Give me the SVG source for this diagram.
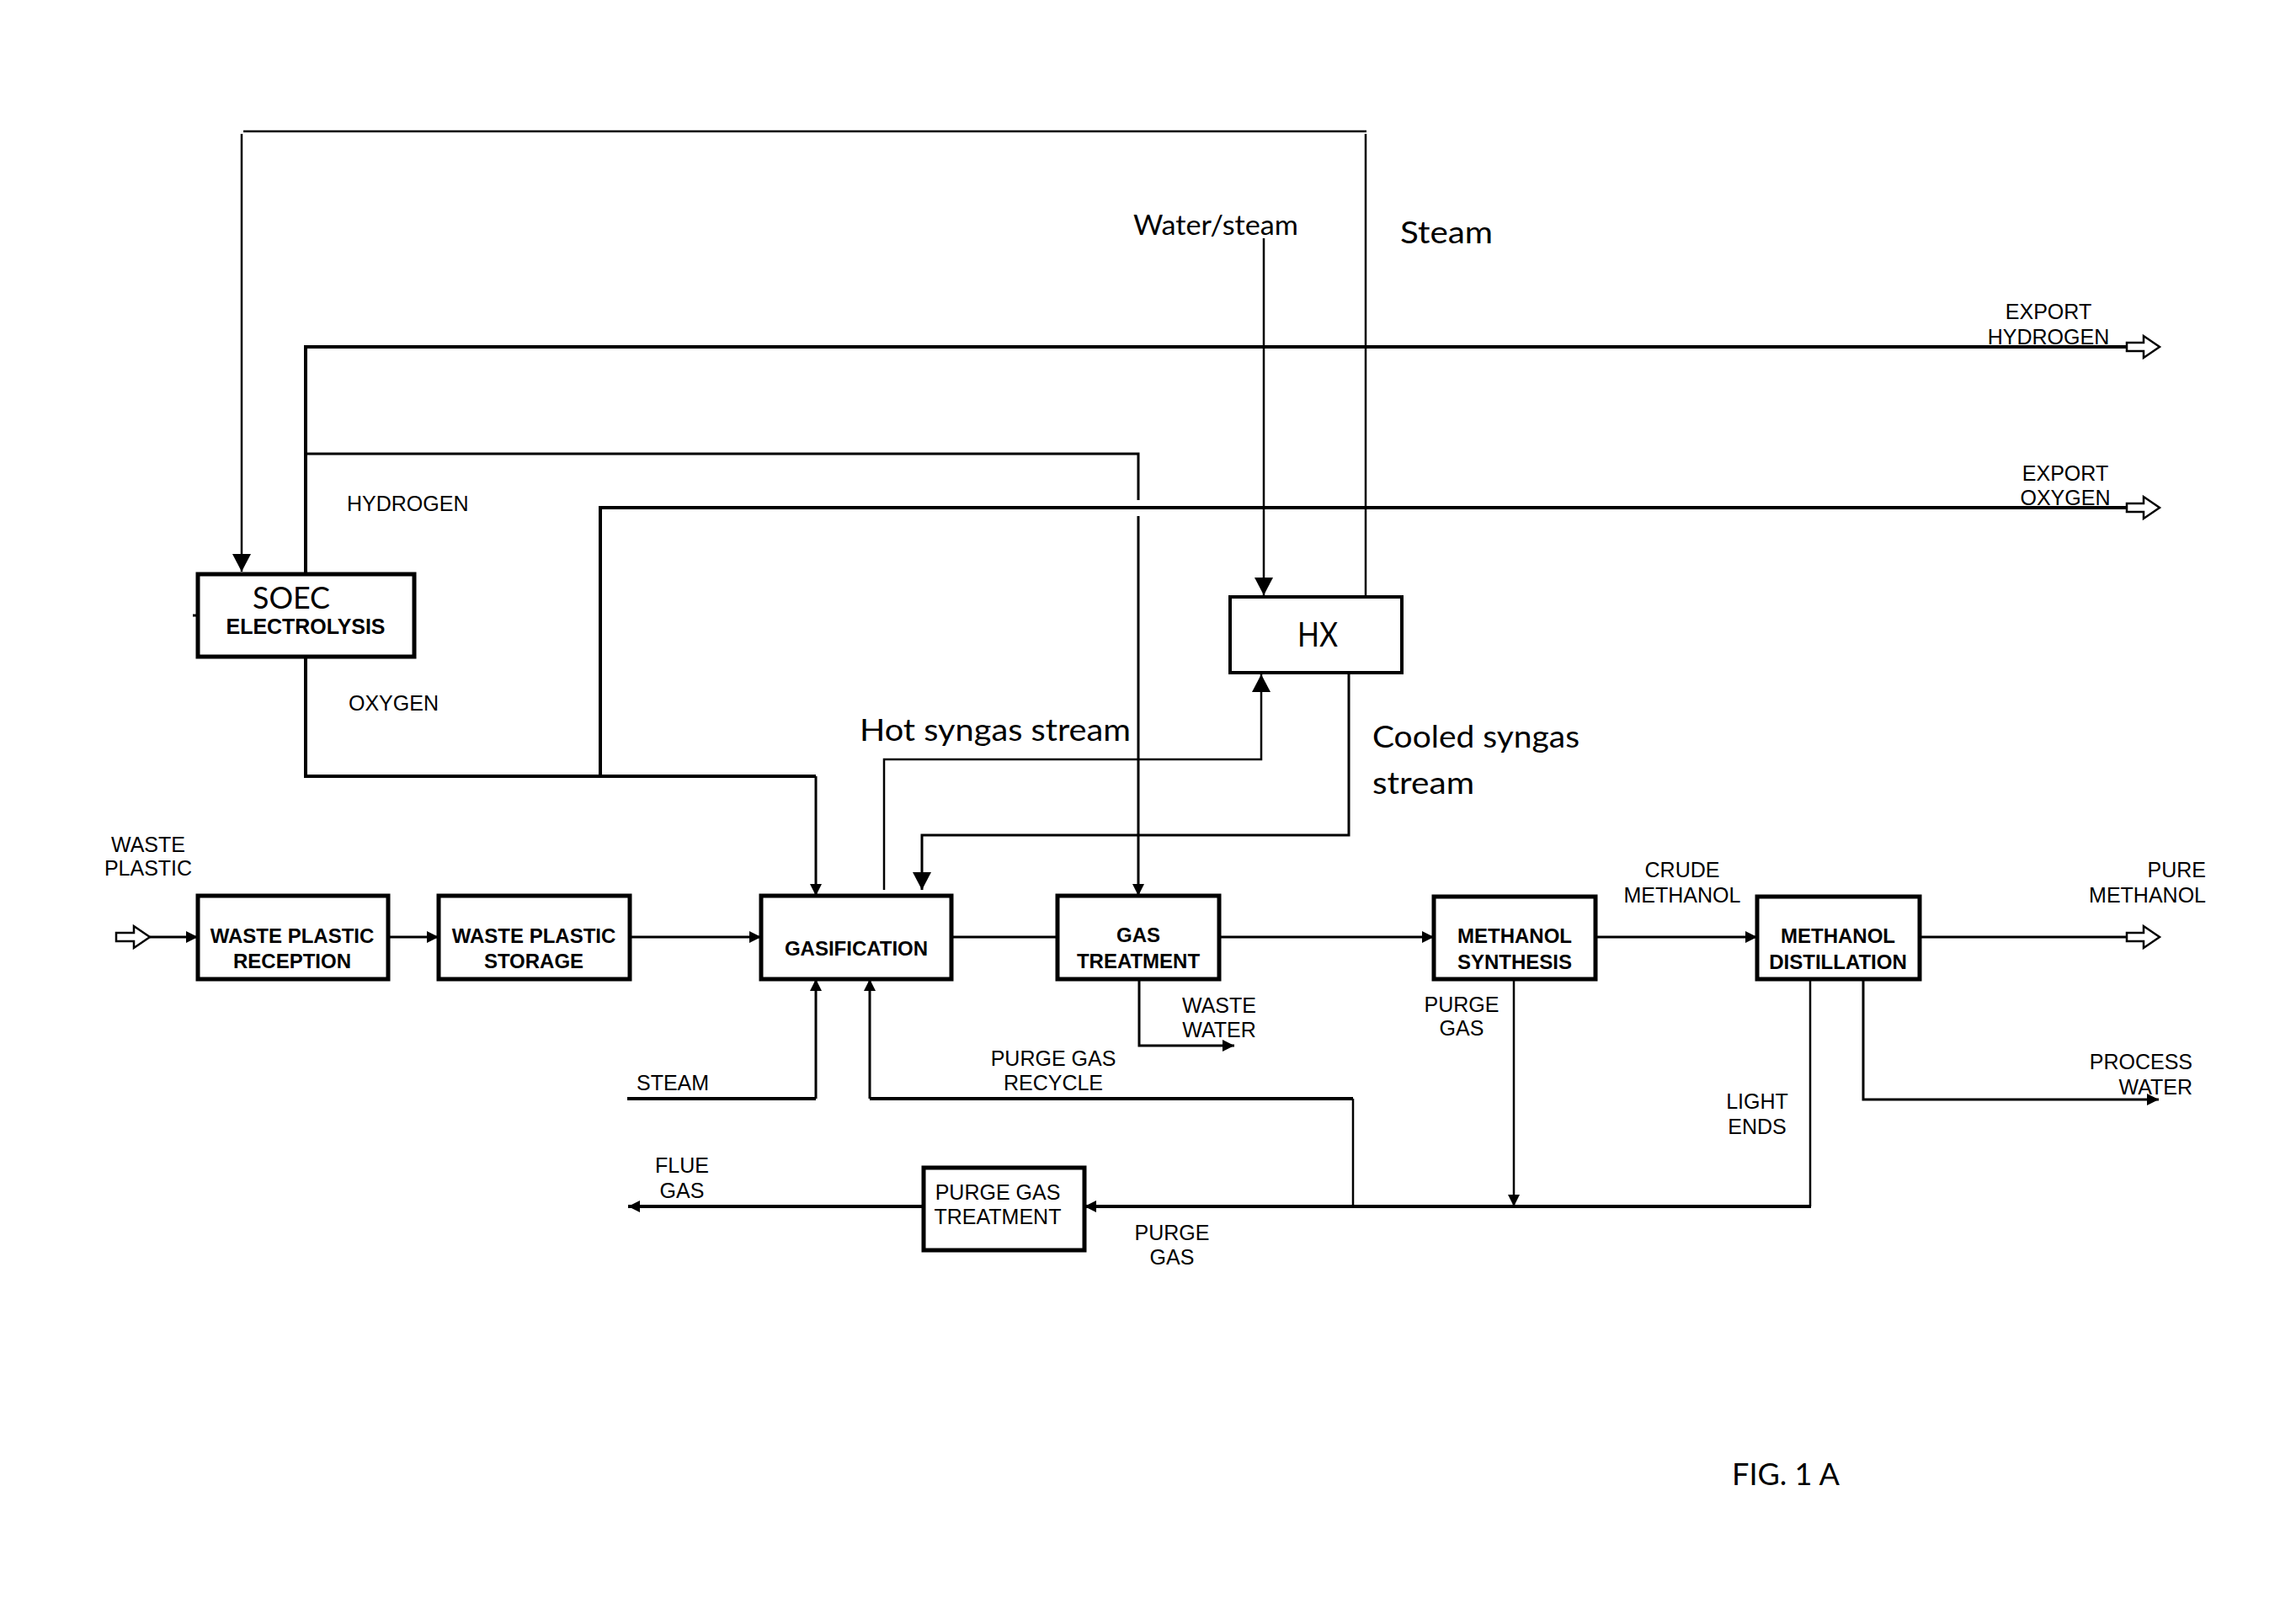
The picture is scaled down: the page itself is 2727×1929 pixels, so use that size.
<svg xmlns="http://www.w3.org/2000/svg" width="2727" height="1929" viewBox="0 0 2727 1929">
<style>
  .box { fill: #fff; stroke: #000; stroke-width: 5; }
  .hx { fill: #fff; stroke: #000; stroke-width: 4; }
  .ln { fill: none; stroke: #000; stroke-width: 3; stroke-linejoin: miter; }
  .thin { fill: none; stroke: #000; stroke-width: 2.5; }
  .thick { fill: none; stroke: #000; stroke-width: 4; }
  .open { fill: #fff; stroke: #000; stroke-width: 2.5; stroke-linejoin: miter; }
  .lbl { font-family: "Liberation Sans", Arial, sans-serif; font-size: 25px; fill: #000; }
  .bl { font-family: "Liberation Sans", Arial, sans-serif; font-size: 24px; font-weight: bold; fill: #000; text-anchor: middle; }
  .cal { font-family: Lato, "Open Sans", sans-serif; fill: #000; }
  .mid { text-anchor: middle; }
  .end { text-anchor: end; }
</style>
<defs>
  <marker id="arrS" markerUnits="userSpaceOnUse" markerWidth="16" markerHeight="16" refX="14" refY="8" orient="auto">
    <path d="M0,1 L14,8 L0,15 z" fill="#000"/>
  </marker>
  <marker id="arrB" markerUnits="userSpaceOnUse" markerWidth="24" markerHeight="24" refX="21" refY="12" orient="auto">
    <path d="M0,1 L21,12 L0,23 z" fill="#000"/>
  </marker>
</defs>
<rect width="2727" height="1929" fill="#fff"/>

<g id="connectors">
  <!-- steam loop from HX to SOEC -->
  <polyline class="thin" points="1622,709 1622,159"/>
  <polyline class="thin" points="1623,156 289,156"/>
  <polyline class="thin" points="287,159 287,679" marker-end="url(#arrB)"/>
  <!-- water/steam into HX -->
  <polyline class="thin" points="1501,283 1501,707" marker-end="url(#arrB)"/>
  <!-- hydrogen -->
  <polyline class="thick" points="363,682 363,412 2527,412"/>
  <polyline class="ln" points="363,539 1352,539 1352,594"/>
  <polyline class="ln" points="1352,613 1352,1064" marker-end="url(#arrS)"/>
  <!-- oxygen -->
  <polyline class="thick" points="363,780 363,922 969,922"/>
  <polyline class="ln" points="969,922 969,1064" marker-end="url(#arrS)"/>
  <polyline class="thick" points="713,922 713,603 2527,603"/>
  <!-- hot syngas -->
  <polyline class="thin" points="1050,1057 1050,902 1498,902 1498,801" marker-end="url(#arrB)"/>
  <!-- cooled syngas -->
  <polyline class="ln" points="1602,799 1602,992 1095,992 1095,1057" marker-end="url(#arrB)"/>
  <!-- main flow -->
  <line class="ln" x1="178" y1="1113" x2="235" y2="1113" marker-end="url(#arrS)"/>
  <line class="ln" x1="461" y1="1113" x2="521" y2="1113" marker-end="url(#arrS)"/>
  <line class="ln" x1="748" y1="1113" x2="904" y2="1113" marker-end="url(#arrS)"/>
  <line class="ln" x1="1130" y1="1113" x2="1256" y2="1113"/>
  <line class="ln" x1="1448" y1="1113" x2="1703" y2="1113" marker-end="url(#arrS)"/>
  <line class="ln" x1="1895" y1="1113" x2="2087" y2="1113" marker-end="url(#arrS)"/>
  <line class="ln" x1="2280" y1="1113" x2="2526" y2="1113"/>
  <!-- waste water -->
  <polyline class="ln" points="1353,1163 1353,1242 1466,1242" marker-end="url(#arrS)"/>
  <!-- steam to gasification -->
  <polyline class="thick" points="745,1305 969,1305"/>
  <polyline class="ln" points="969,1305 969,1163" marker-end="url(#arrS)"/>
  <!-- purge gas recycle -->
  <polyline class="thin" points="1607,1433 1607,1305"/>
  <polyline class="thick" points="1607,1305 1033,1305"/>
  <polyline class="ln" points="1033,1305 1033,1163" marker-end="url(#arrS)"/>
  <!-- purge gas from synthesis -->
  <polyline class="thin" points="1798,1163 1798,1433" marker-end="url(#arrS)"/>
  <!-- light ends / purge gas header -->
  <polyline class="thin" points="2150,1163 2150,1433"/>
  <polyline class="thick" points="2151,1433 1288,1433" marker-end="url(#arrS)"/>
  <!-- process water -->
  <polyline class="ln" points="2213,1163 2213,1306 2564,1306" marker-end="url(#arrS)"/>
  <!-- flue gas -->
  <line class="thick" x1="1097" y1="1433" x2="746" y2="1433" marker-end="url(#arrS)"/>
  <!-- small tick at SOEC -->
  <line class="ln" x1="229" y1="731" x2="236" y2="731"/>
  <!-- open (hollow) terminal arrows -->
  <polygon class="open" points="138,1108 159,1108 159,1100 178,1113 159,1126 159,1118 138,1118"/>
  <polygon class="open" points="2526,407 2546,407 2546,399 2565,412 2546,425 2546,417 2526,417"/>
  <polygon class="open" points="2526,598 2546,598 2546,590 2565,603 2546,616 2546,608 2526,608"/>
  <polygon class="open" points="2526,1108 2546,1108 2546,1100 2565,1113 2546,1126 2546,1118 2526,1118"/>
</g>

<g id="soec">
  <rect class="box" x="235" y="682" width="257" height="98"/>
  <text class="cal mid" x="346" y="723" font-size="37" textLength="92" lengthAdjust="spacingAndGlyphs">SOEC</text>
  <text class="lbl mid" x="363" y="753" font-weight="bold" textLength="189" lengthAdjust="spacingAndGlyphs">ELECTROLYSIS</text>
</g>

<g id="hx">
  <rect class="hx" x="1461" y="709" width="204" height="90"/>
  <text class="cal mid" x="1565" y="768" font-size="40" textLength="48" lengthAdjust="spacingAndGlyphs">HX</text>
</g>

<g id="reception">
  <rect class="box" x="235" y="1064" width="226" height="99"/>
  <text class="bl" x="347" y="1120">WASTE PLASTIC</text>
  <text class="bl" x="347" y="1150">RECEPTION</text>
</g>

<g id="storage">
  <rect class="box" x="521" y="1064" width="227" height="99"/>
  <text class="bl" x="634" y="1120">WASTE PLASTIC</text>
  <text class="bl" x="634" y="1150">STORAGE</text>
</g>

<g id="gasification">
  <rect class="box" x="904" y="1064" width="226" height="99"/>
  <text class="bl" x="1017" y="1135">GASIFICATION</text>
</g>

<g id="gas-treatment">
  <rect class="box" x="1256" y="1064" width="192" height="99"/>
  <text class="bl" x="1352" y="1119">GAS</text>
  <text class="bl" x="1352" y="1150">TREATMENT</text>
</g>

<g id="methanol-synthesis">
  <rect class="box" x="1703" y="1065" width="192" height="98"/>
  <text class="bl" x="1799" y="1120">METHANOL</text>
  <text class="bl" x="1799" y="1151">SYNTHESIS</text>
</g>

<g id="methanol-distillation">
  <rect class="box" x="2087" y="1065" width="193" height="98"/>
  <text class="bl" x="2183" y="1120">METHANOL</text>
  <text class="bl" x="2183" y="1151">DISTILLATION</text>
</g>

<g id="purge-gas-treatment">
  <rect class="box" x="1097" y="1387" width="191" height="98"/>
  <text class="lbl mid" x="1185" y="1425">PURGE GAS</text>
  <text class="lbl mid" x="1185" y="1454">TREATMENT</text>
</g>

<g id="labels">
  <text class="lbl mid" x="176" y="1012">WASTE</text>
  <text class="lbl mid" x="176" y="1040">PLASTIC</text>
  <text class="lbl" x="412" y="607">HYDROGEN</text>
  <text class="lbl" x="414" y="844">OXYGEN</text>
  <text class="lbl mid" x="2433" y="379">EXPORT</text>
  <text class="lbl mid" x="2433" y="409">HYDROGEN</text>
  <text class="lbl mid" x="2453" y="571">EXPORT</text>
  <text class="lbl mid" x="2453" y="600">OXYGEN</text>
  <text class="cal" x="1346" y="279" font-size="32" textLength="196" lengthAdjust="spacingAndGlyphs">Water/steam</text>
  <text class="cal" x="1663" y="289" font-size="36" textLength="110" lengthAdjust="spacingAndGlyphs">Steam</text>
  <text class="cal" x="1021" y="880" font-size="37" textLength="322" lengthAdjust="spacingAndGlyphs">Hot syngas stream</text>
  <text class="cal" x="1630" y="888" font-size="37" textLength="246" lengthAdjust="spacingAndGlyphs">Cooled syngas</text>
  <text class="cal" x="1630" y="943" font-size="37" textLength="121" lengthAdjust="spacingAndGlyphs">stream</text>
  <text class="lbl" x="756" y="1295">STEAM</text>
  <text class="lbl mid" x="1251" y="1266">PURGE GAS</text>
  <text class="lbl mid" x="1251" y="1295">RECYCLE</text>
  <text class="lbl mid" x="1448" y="1203">WASTE</text>
  <text class="lbl mid" x="1448" y="1232">WATER</text>
  <text class="lbl mid" x="1736" y="1202">PURGE</text>
  <text class="lbl mid" x="1736" y="1230">GAS</text>
  <text class="lbl mid" x="1998" y="1042">CRUDE</text>
  <text class="lbl mid" x="1998" y="1072">METHANOL</text>
  <text class="lbl end" x="2620" y="1042">PURE</text>
  <text class="lbl end" x="2620" y="1072">METHANOL</text>
  <text class="lbl end" x="2604" y="1270">PROCESS</text>
  <text class="lbl end" x="2604" y="1300">WATER</text>
  <text class="lbl mid" x="2087" y="1317">LIGHT</text>
  <text class="lbl mid" x="2087" y="1347">ENDS</text>
  <text class="lbl mid" x="810" y="1393">FLUE</text>
  <text class="lbl mid" x="810" y="1423">GAS</text>
  <text class="lbl mid" x="1392" y="1473">PURGE</text>
  <text class="lbl mid" x="1392" y="1502">GAS</text>
  <text class="cal" x="2057" y="1764" font-size="36" textLength="128" lengthAdjust="spacingAndGlyphs">FIG. 1 A</text>
</g>
</svg>
